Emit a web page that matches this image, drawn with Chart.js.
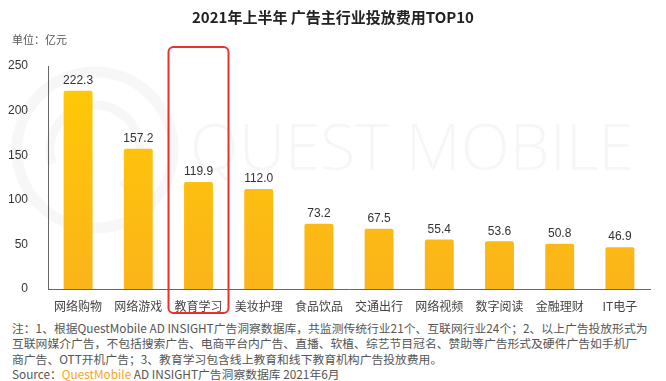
<!DOCTYPE html>
<html>
<head>
<meta charset="utf-8">
<script src="https://cdn.jsdelivr.net/npm/chart.js@4.4.1/dist/chart.umd.min.js"></script>
<style>
  body { margin: 0; background: #fff; width: 666px; height: 381px; overflow: hidden; position: relative;
         font-family: "Noto Sans CJK SC", "Noto Sans", sans-serif; }
  #title { position: absolute; top: 6px; left: 0; width: 666px; text-align: center;
           font-size: 15px; font-weight: bold; color: #222; }
  #unit { position: absolute; top: 31px; left: 12px; font-size: 11px; color: #555; }
  #wrap { position: absolute; left: 0; top: 0; width: 666px; height: 318px; }
  #notes { position: absolute; left: 12px; top: 320px; width: 654px; font-size: 11.8px; line-height: 15.3px; color: #555; white-space: nowrap; }
  #notes .qm { color: #F5A623; }
</style>
</head>
<body>
<div id="wrap"><canvas id="adChart"></canvas></div>
<div id="title">2021年上半年 广告主行业投放费用TOP10</div>
<div id="unit">单位：亿元</div>
<div id="notes">
  注：1、根据QuestMobile AD INSIGHT广告洞察数据库，共监测传统行业21个、互联网行业24个；2、以上广告投放形式为<br>
  互联网媒介广告，不包括搜索广告、电商平台内广告、直播、软植、综艺节目冠名、赞助等广告形式及硬件广告如手机厂<br>
  商广告、OTT开机广告；3、教育学习包含线上教育和线下教育机构广告投放费用。<br>
  Source：<span class="qm">QuestMobile</span> AD INSIGHT广告洞察数据库 2021年6月
</div>
<script>
// chart data
const categories = ['网络购物', '网络游戏', '教育学习', '美妆护理', '食品饮品', '交通出行', '网络视频', '数字阅读', '金融理财', 'IT电子'];
const spend = [222.3, 157.2, 119.9, 112.0, 73.2, 67.5, 55.4, 53.6, 50.8, 46.9];
const yTicks = [0, 50, 100, 150, 200, 250];
const highlightIndex = 2;

function barGradient(context) {
  const chart = context.chart;
  const area = chart.chartArea;
  if (!area) return '#FFC400';
  const g = chart.ctx.createLinearGradient(0, area.top, 0, area.bottom);
  g.addColorStop(0, '#FFCA05');
  g.addColorStop(1, '#FBB41A');
  return g;
}

// faint watermark behind the bars
const watermark = {
  id: 'watermark',
  beforeDatasetsDraw(chart) {
    const ctx = chart.ctx;
    ctx.save();
    ctx.strokeStyle = 'rgba(0,0,0,0.03)';
    ctx.lineWidth = 11;
    ctx.beginPath();
    ctx.arc(95, 150, 78, 0, Math.PI * 2);
    ctx.stroke();
    ctx.lineWidth = 9;
    ctx.beginPath();
    ctx.arc(95, 150, 45, Math.PI * 0.9, Math.PI * 2.3);
    ctx.stroke();
    ctx.fillStyle = 'rgba(0,0,0,0.035)';
    ctx.font = '300 64px "Open Sans", "Noto Sans", sans-serif';
    ctx.textBaseline = 'middle';
    ctx.fillText('QUEST MOBILE', 190, 152);
    ctx.restore();
  }
};

// value labels above bars
const valueLabels = {
  id: 'valueLabels',
  afterDatasetsDraw(chart) {
    const ctx = chart.ctx;
    const meta = chart.getDatasetMeta(0);
    ctx.save();
    ctx.fillStyle = '#333';
    ctx.font = '12px "Liberation Sans", Arial, sans-serif';
    ctx.textAlign = 'center';
    ctx.textBaseline = 'bottom';
    meta.data.forEach((bar, i) => {
      ctx.fillText(spend[i].toFixed(1), bar.x, bar.y - 4);
    });
    ctx.restore();
  }
};

// red frame around the highlighted category
const highlightBox = {
  id: 'highlightBox',
  afterDraw(chart) {
    const ctx = chart.ctx;
    const x = chart.scales.x;
    const cx = x.getPixelForValue(highlightIndex);
    const w = 60;
    const top = 47;
    const bottom = 313;
    ctx.save();
    ctx.strokeStyle = '#E8322B';
    ctx.lineWidth = 2;
    ctx.beginPath();
    ctx.roundRect(cx - w / 2, top, w, bottom - top, 5);
    ctx.stroke();
    ctx.restore();
  }
};

new Chart(document.getElementById('adChart'), {
  type: 'bar',
  data: {
    labels: categories,
    datasets: [{
      data: spend,
      backgroundColor: barGradient,
      borderRadius: 2,
      borderSkipped: 'bottom',
      categoryPercentage: 1,
      barPercentage: 0.48
    }]
  },
  options: {
    responsive: true,
    maintainAspectRatio: false,
    animation: false,
    layout: { padding: { left: 0, right: 16, top: 66, bottom: 0 } },
    plugins: { legend: { display: false }, tooltip: { enabled: false } },
    scales: {
      x: {
        grid: { display: false },
        border: { display: true, color: '#666', width: 1 },
        ticks: { color: '#444', font: { size: 12, family: '"Noto Sans CJK SC"' }, padding: 2 },
        afterFit: s => { s.height = 29; }
      },
      y: {
        min: 0, max: 250,
        afterBuildTicks: s => { s.ticks = yTicks.map(v => ({ value: v })); },
        grid: { display: false },
        border: { display: true, color: '#666', width: 1 },
        ticks: { color: '#333', font: { size: 12, family: '"Liberation Sans", Arial' }, padding: 12 },
        afterFit: s => { s.width = 48; }
      }
    }
  },
  plugins: [watermark, valueLabels, highlightBox]
});
</script>
</body>
</html>
